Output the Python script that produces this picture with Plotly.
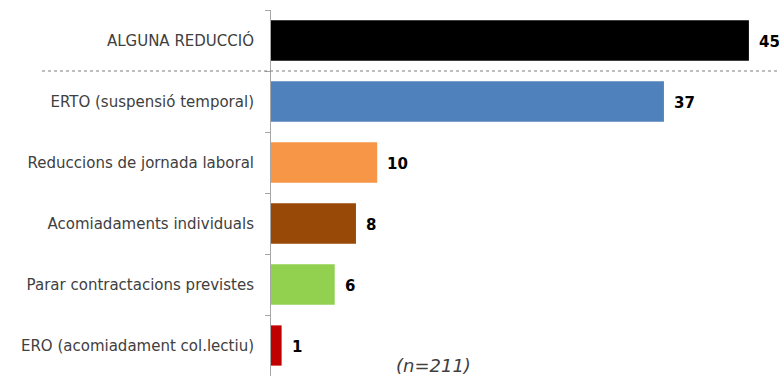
import plotly.graph_objects as go

categories = ["ALGUNA REDUCCIÓ", "ERTO (suspensió temporal)", "Reduccions de jornada laboral",
              "Acomiadaments individuals", "Parar contractacions previstes", "ERO (acomiadament col.lectiu)"]
values = [45, 37, 10, 8, 6, 1]
colors = ["#000000", "#4F81BD", "#F79646", "#984807", "#92D050", "#C00000"]
note = "(n=211)"

W, H = 779, 376
ml, mt = 271, 10
pw = W - ml

fig = go.Figure()
fig.add_trace(go.Bar(
    y=categories, x=values, orientation="h",
    marker=dict(color=colors, line=dict(width=0)),
    width=0.66, hoverinfo="skip",
))

for c, v in zip(categories, values):
    fig.add_annotation(x=v, y=c, xref="x", yref="y", text=f"<b>{v}</b>", showarrow=False,
                       xanchor="left", xshift=8, yshift=-1,
                       font=dict(family="DejaVu Sans", size=15, color="#000000"))

fig.add_annotation(x=(433 - ml) / pw, y=0, xref="paper", yref="paper", text=f"<i>{note}</i>",
                   showarrow=False, xanchor="center", yanchor="bottom", yshift=-2,
                   font=dict(family="DejaVu Sans", size=18, color="#404040"))

fig.add_shape(type="line", xref="paper", yref="y", x0=(42 - ml) / pw, x1=1.0, y0=0.5, y1=0.5,
              line=dict(color="#7F7F7F", width=1.2, dash="dot"))

fig.update_layout(
    width=W, height=H,
    margin=dict(l=ml, r=0, t=mt, b=0, pad=0),
    paper_bgcolor="white", plot_bgcolor="white",
    showlegend=False,
    bargap=0.34,
    xaxis=dict(range=[0, pw / 10.62], visible=False, fixedrange=True),
    yaxis=dict(type="category", autorange="reversed", showline=True, linecolor="#A6A6A6", linewidth=1,
               ticks="outside", ticklen=5, tickcolor="#A6A6A6", tickson="boundaries",
               showgrid=False, ticklabelstandoff=13,
               tickfont=dict(family="DejaVu Sans", size=15, color="#404040")),
)

fig.write_html("out.html")
